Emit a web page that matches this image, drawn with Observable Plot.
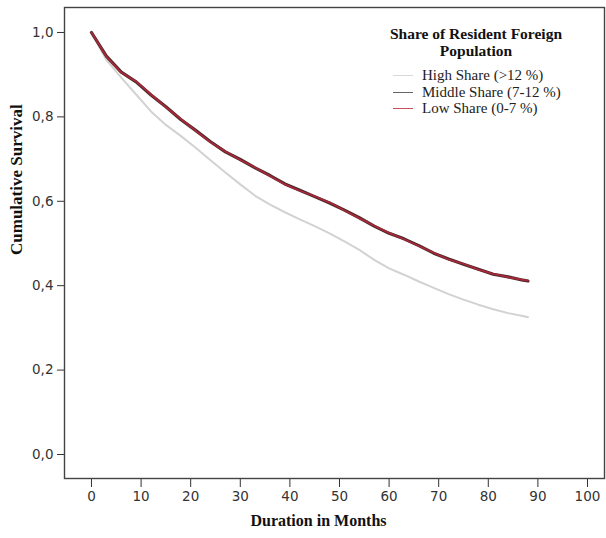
<!DOCTYPE html>
<html>
<head>
<meta charset="utf-8">
<script src="https://cdn.jsdelivr.net/npm/d3@7"></script>
<script src="https://cdn.jsdelivr.net/npm/@observablehq/plot@0.6"></script>
<style>
  html, body { margin: 0; padding: 0; background: #fff; }
  #wrap { position: relative; width: 606px; height: 538px; }
  #legend { position: absolute; left: 0; top: 0; width: 606px; height: 538px; pointer-events: none; }
  .lg-title { position: absolute; left: 376px; top: 25px; width: 200px; text-align: center; font: bold 15.5px "Liberation Serif", serif; color: #111; line-height: 17px; }
  .lg-item { position: absolute; left: 422px; font: 15px "Liberation Serif", serif; color: #222; line-height: 16px; white-space: nowrap; }
  .lg-line { position: absolute; left: 393px; width: 20px; height: 0; border-top: 1.6px solid; }
</style>
</head>
<body>
<div id="wrap"><div id="chart"></div><div id="legend"></div></div>
<script>
// ---- data ----
const months = [0, 3, 6, 9, 12, 15, 18, 21, 24, 27, 30, 33, 36, 39, 42, 45, 48, 51, 54, 57, 60, 63, 66, 69, 72, 75, 78, 81, 84, 87, 88];
const highShare   = [1.000, 0.935, 0.893, 0.853, 0.813, 0.781, 0.755, 0.727, 0.697, 0.668, 0.640, 0.613, 0.592, 0.574, 0.557, 0.541, 0.524, 0.505, 0.485, 0.461, 0.441, 0.426, 0.410, 0.395, 0.380, 0.367, 0.355, 0.344, 0.335, 0.328, 0.325];
const middleShare = [1.000, 0.944, 0.906, 0.883, 0.852, 0.824, 0.794, 0.768, 0.741, 0.717, 0.699, 0.679, 0.661, 0.641, 0.626, 0.611, 0.596, 0.579, 0.561, 0.541, 0.524, 0.511, 0.495, 0.477, 0.463, 0.451, 0.439, 0.427, 0.421, 0.413, 0.411];
const lowShare    = [1.000, 0.943, 0.905, 0.884, 0.853, 0.823, 0.795, 0.767, 0.740, 0.718, 0.698, 0.680, 0.660, 0.640, 0.625, 0.612, 0.597, 0.578, 0.560, 0.542, 0.525, 0.510, 0.494, 0.478, 0.462, 0.452, 0.438, 0.428, 0.420, 0.414, 0.412];
const seriesNames = ["High Share (>12 %)", "Middle Share (7-12 %)", "Low Share (0-7 %)"];
const seriesColors = ["#d2d2d2", "#4a2a2a", "#a8283a"];
const legendColors = ["#d8d8d8", "#666666", "#c8505e"];
const xTicks = [0, 10, 20, 30, 40, 50, 60, 70, 80, 90, 100];
const yTicks = [0, 0.2, 0.4, 0.6, 0.8, 1.0];
const legendTitle = ["Share of Resident Foreign", "Population"];
const xTitle = "Duration in Months";
const yTitle = "Cumulative Survival";

const toRows = (vals, name) => months.map((m, i) => ({month: m, surv: vals[i], group: name}));
const high = toRows(highShare, seriesNames[0]);
const middle = toRows(middleShare, seriesNames[1]);
const low = toRows(lowShare, seriesNames[2]);

const commaFmt = d => d.toFixed(1).replace(".", ",");

const chart = Plot.plot({
  width: 606,
  height: 538,
  marginLeft: 64,
  marginRight: 2,
  marginTop: 7,
  marginBottom: 60,
  style: {background: "#fff", color: "#333", fontFamily: "DejaVu Sans, sans-serif", fontSize: "13.5px"},
  x: {domain: [-5.44, 103.43]},
  y: {domain: [-0.0569, 1.0592]},
  marks: [
    Plot.axisY(yTicks, {tickSize: 7, tickPadding: 4, tickFormat: commaFmt, label: null, fontSize: 13.5, stroke: "#333"}),
    Plot.axisX(xTicks, {tickSize: 9, tickPadding: 4, label: null, fontSize: 13.5, stroke: "#333"}),
    Plot.frame({stroke: "#444", strokeWidth: 1.4}),
    Plot.line(high, {x: "month", y: "surv", stroke: seriesColors[0], strokeWidth: 2, curve: "linear"}),
    Plot.line(middle, {x: "month", y: "surv", stroke: seriesColors[1], strokeWidth: 3.2, curve: "linear"}),
    Plot.line(low, {x: "month", y: "surv", stroke: seriesColors[2], strokeWidth: 1.8, curve: "linear"}),
    Plot.text([xTitle], {text: d => d, frameAnchor: "bottom", dx: -16, dy: 47, fontFamily: "Liberation Serif, serif", fontWeight: "bold", fontSize: 16, fill: "#111"}),
    Plot.text([yTitle], {text: d => d, frameAnchor: "left", rotate: -90, dx: -48, dy: 12, fontFamily: "Liberation Serif, serif", fontWeight: "bold", fontSize: 17, fill: "#111"})
  ]
});
document.getElementById("chart").appendChild(chart);

// legend overlay
const lg = document.getElementById("legend");
const titleDiv = document.createElement("div");
titleDiv.className = "lg-title";
legendTitle.forEach((t, i) => {
  if (i > 0) titleDiv.appendChild(document.createElement("br"));
  titleDiv.appendChild(document.createTextNode(t));
});
lg.appendChild(titleDiv);
const itemY = [75, 92, 108];
seriesNames.forEach((n, i) => {
  const l = document.createElement("div");
  l.className = "lg-line";
  l.style.top = itemY[i] + "px";
  l.style.borderTopColor = legendColors[i];
  lg.appendChild(l);
  const t = document.createElement("div");
  t.className = "lg-item";
  t.style.top = (itemY[i] - 8) + "px";
  t.textContent = n;
  lg.appendChild(t);
});
</script>
</body>
</html>
